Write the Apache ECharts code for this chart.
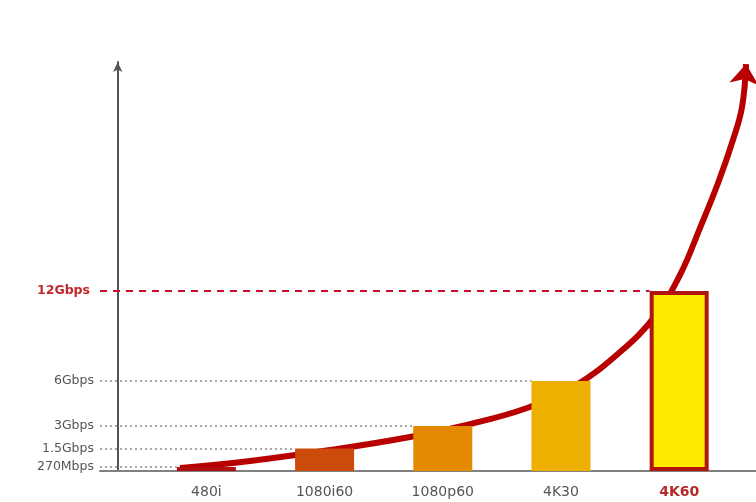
<!DOCTYPE html>
<html>
<head>
<meta charset="utf-8">
<script src="https://cdn.jsdelivr.net/npm/echarts@6/dist/echarts.min.js"></script>
<style>
html,body{margin:0;padding:0;background:#fff;}
#chart{width:756px;height:502px;}
</style>
</head>
<body>
<div id="chart"></div>
<script>
// ---- data ----
const categories = ['480i', '1080i60', '1080p60', '4K30', '4K60'];
const ratesGbps = [0.27, 1.5, 3, 6, 12];
const yTickValues = [0.27, 1.5, 3, 6, 12];
const yTickLabels = ['270Mbps', '1.5Gbps', '3Gbps', '6Gbps', '12Gbps'];
// growth curve (x in category units, y in Gbps)
const curveX = [0.527, 1.119, 1.796, 2.473, 2.981, 3.463, 3.869, 4.25, 4.546, 4.757, 4.926, 5.079, 5.205, 5.282, 5.316];
const curveY = [0.20, 0.67, 1.40, 2.27, 3.13, 4.20, 5.67, 7.93, 10.33, 13.07, 16.2, 19.2, 22.07, 24.27, 27.13];

// ---- styling / layout ----
const CAT_OFFSET = 0.75;      // first category centre, in axis units
const BAR_HALF = 0.25;        // half bar width in axis units
const barColors = ['#b01010', '#cc4a0a', '#e48a00', '#eeb000', '#ffea00'];
const FONT = 'DejaVu Sans';

const catPos = categories.map((c, i) => i + CAT_OFFSET);

const barData = categories.map((c, i) => {
  const item = { value: [catPos[i], ratesGbps[i]], itemStyle: { color: barColors[i] } };
  if (i === categories.length - 1) {
    item.itemStyle.borderColor = '#b0140f';
    item.itemStyle.borderWidth = 4;
  }
  return item;
});

const curveData = curveX.map((x, i) => {
  if (i === curveX.length - 1) {
    return { value: [x, curveY[i]], symbol: 'arrow', symbolSize: [22, 20], symbolRotate: -6, itemStyle: { color: '#b80000' } };
  }
  return [x, curveY[i]];
});

const XMIN = -0.15;
const guideLines = yTickValues.map((v, i) => {
  const isTop = i === yTickValues.length - 1;
  return [
    { coord: [XMIN, v], lineStyle: isTop
        ? { color: '#c8102e', width: 2, type: [7, 6] }
        : { color: '#8a8a8a', width: 1.5, type: [2, 3] } },
    { coord: [catPos[i] - BAR_HALF, v] }
  ];
});

const chart = echarts.init(document.getElementById('chart'), null, { renderer: 'canvas' });
chart.setOption({
  animation: false,
  backgroundColor: '#ffffff',
  grid: { left: 100, right: 0, top: 62, bottom: 31 },
  xAxis: {
    type: 'value',
    min: XMIN,
    max: 5.4,
    splitLine: { show: false },
    axisTick: { show: false },
    axisLine: { show: true, lineStyle: { color: '#808080', width: 2 } },
    axisLabel: {
      customValues: catPos,
      margin: 14,
      fontFamily: FONT,
      fontSize: 14,
      color: '#555',
      formatter: (v) => {
        const idx = catPos.findIndex(p => Math.abs(p - v) < 1e-6);
        if (idx < 0) return '';
        return idx === categories.length - 1 ? '{hl|' + categories[idx] + '}' : categories[idx];
      },
      rich: { hl: { color: '#b42a2a', fontWeight: 'bold', fontFamily: FONT, fontSize: 14 } }
    }
  },
  yAxis: {
    type: 'value',
    min: 0,
    max: 27.27,
    splitLine: { show: false },
    axisTick: { show: false },
    axisLine: {
      show: true, onZero: true,
      symbol: ['none', 'arrow'], symbolSize: [7, 10],
      lineStyle: { color: '#555', width: 2 }
    },
    axisLabel: {
      customValues: yTickValues,
      margin: 6,
      fontFamily: FONT,
      fontSize: 12.5,
      color: '#555',
      formatter: (v) => {
        const idx = yTickValues.findIndex(p => Math.abs(p - v) < 1e-6);
        if (idx < 0) return '';
        return idx === yTickValues.length - 1 ? '{hl|' + yTickLabels[idx] + '}' : yTickLabels[idx];
      },
      rich: { hl: { color: '#c0282a', fontWeight: 'bold', fontFamily: FONT, fontSize: 12.5, padding: [0, 4, 0, 0] } }
    }
  },
  series: [
    {
      type: 'line',
      name: 'growth',
      data: curveData,
      smooth: 0.4,
      clip: false,
      showSymbol: true,
      symbol: 'none',
      lineStyle: { color: '#b80000', width: 6 },
      z: 2,
      silent: true
    },
    {
      type: 'bar',
      name: 'bandwidth',
      data: barData,
      barWidth: 59,
      z: 3,
      silent: true,
      markLine: {
        silent: true,
        symbol: 'none',
        label: { show: false },
        data: guideLines
      }
    }
  ]
});
</script>
</body>
</html>
